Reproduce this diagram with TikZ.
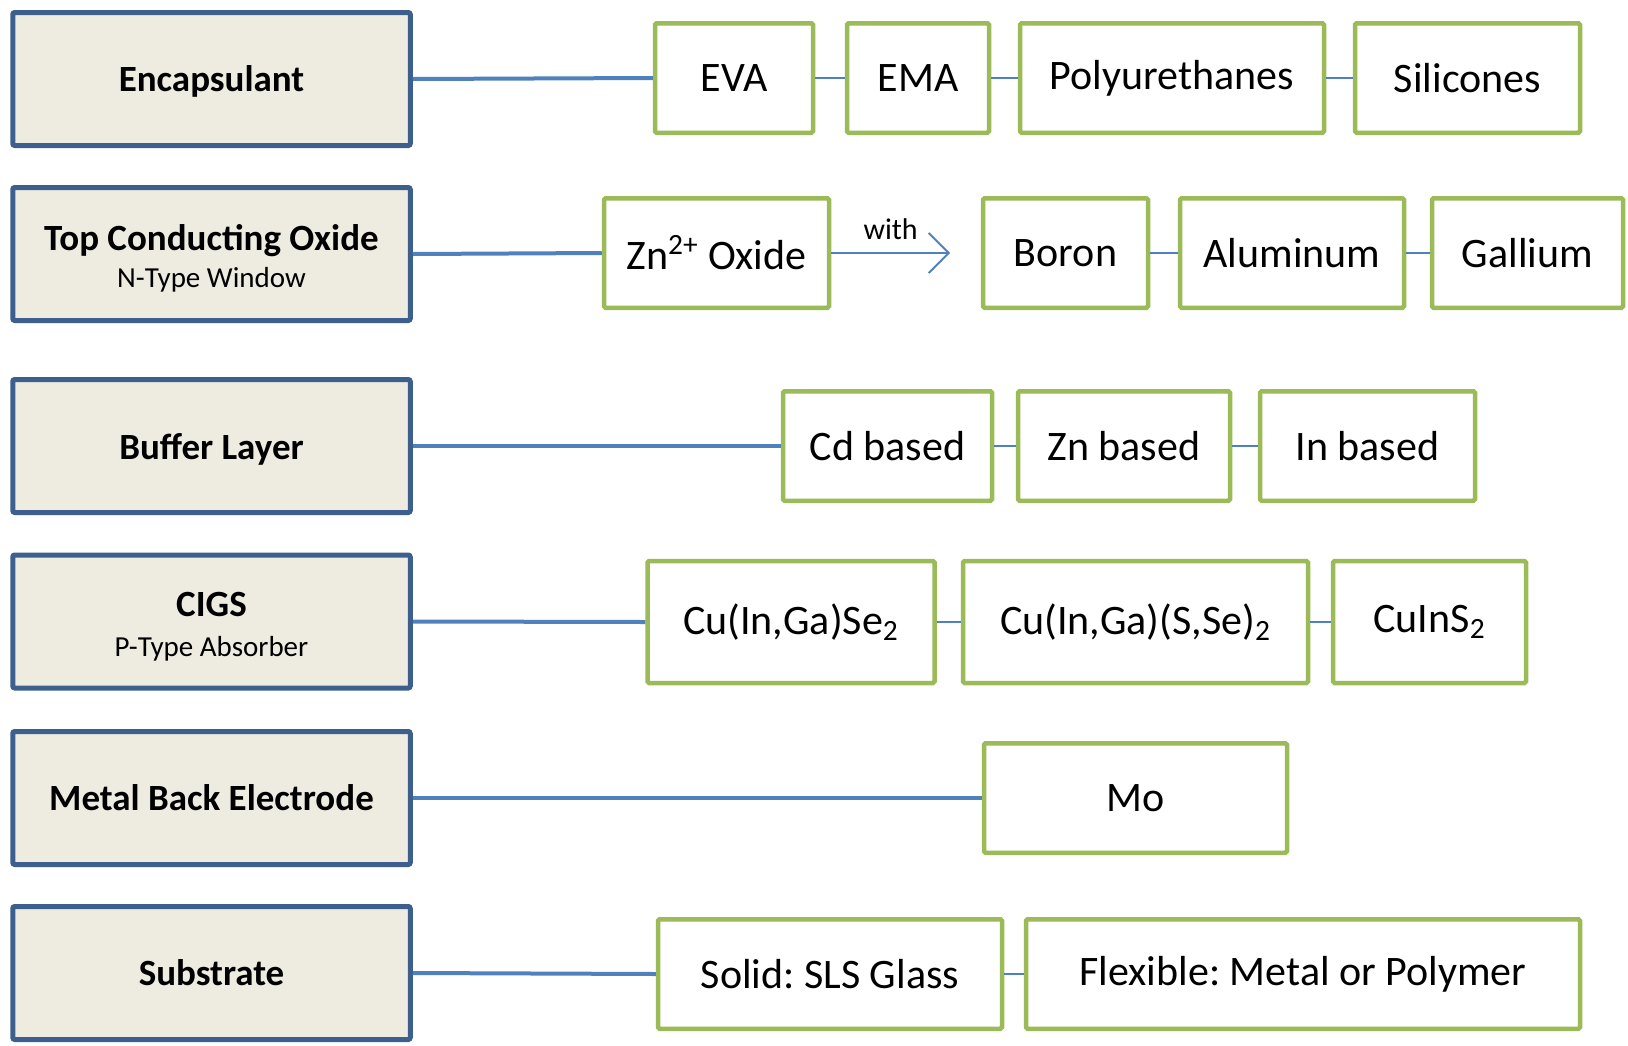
\documentclass[tikz,border=0pt]{standalone}
\usepackage{fontspec}
\setmainfont{Carlito}
\frenchspacing
\usetikzlibrary{arrows.meta}
\definecolor{lfill}{HTML}{EEECE1}
\definecolor{lborder}{HTML}{3C5F8E}
\definecolor{gborder}{HTML}{9BBB59}
\definecolor{cline}{HTML}{4F81BD}
\tikzset{
  lbox/.style={draw=lborder, fill=lfill, line width=2.5pt, rounded corners=1pt,
    minimum width=198.75pt, minimum height=66.5pt, inner sep=0pt, align=center,
    font=\fontsize{18.5}{22}\selectfont\bfseries},
  onebox/.style={lbox, text depth=0pt},
  gbox/.style={draw=gborder, fill=white, line width=2.25pt, rounded corners=0.8pt,
    minimum height=54.75pt, inner sep=0pt, font=\fontsize{21}{25}\selectfont},
  thick link/.style={draw=cline, line width=2pt},
  thin link/.style={draw=cline, line width=1pt},
}
\begin{document}
\begin{tikzpicture}[x=0.5pt,y=-0.5pt]
\useasboundingbox (0,0) rectangle (1628,1045);
% left boxes
\node[onebox] (enc) at (211.5,79) {Encapsulant};
\node[lbox] (tco) at (211.5,254) {\rule{0pt}{17pt}Top Conducting Oxide\\[-3.5pt]{\fontsize{14.5}{18}\selectfont\mdseries N-Type Window}};
\node[onebox] (buf) at (211.5,446) {Buffer Layer};
\node[lbox] (cigs) at (211.5,621.5) {\rule{0pt}{17pt}CIGS\\[-2pt]{\fontsize{14.5}{18}\selectfont\mdseries P-Type Absorber}};
\node[onebox] (mbe) at (211.5,798) {Metal Back Electrode};
\node[onebox] (sub) at (211.5,973) {Substrate};
% row 1
\node[gbox, minimum width=79pt] (eva) at (734,78) {EVA};
\node[gbox, minimum width=71pt] (ema) at (918,78) {EMA};
\node[gbox, minimum width=152pt] (pu) at (1172,78) {Polyurethanes};
\node[gbox, minimum width=112.5pt] (si) at (1467.5,78) {Silicones};
% row 2
\node[gbox, minimum width=112.5pt] (zno) at (716.5,253) {Zn\textsuperscript{2+} Oxide};
\node[gbox, minimum width=82.5pt] (bor) at (1065.5,253) {Boron};
\node[gbox, minimum width=112pt] (alu) at (1292,253) {Aluminum};
\node[gbox, minimum width=95.5pt] (gal) at (1527.5,253) {Gallium};
\coordinate (wend) at (950,253);
% row 3
\node[gbox, minimum width=104.5pt] (cd) at (887.5,446) {Cd based};
\node[gbox, minimum width=106pt] (zn) at (1124,446) {Zn based};
\node[gbox, minimum width=107.5pt] (in) at (1367.5,446) {In based};
% row 4
\node[gbox, minimum width=143.5pt, minimum height=61pt] (c1) at (791,622) {Cu(In,Ga)Se\textsubscript{2}};
\node[gbox, minimum width=172.5pt, minimum height=61pt] (c2) at (1135.5,622) {Cu(In,Ga)(S,Se)\textsubscript{2}};
\node[gbox, minimum width=96.5pt, minimum height=61pt] (c3) at (1429.5,622) {CuInS\textsubscript{2}};
% row 5
\node[gbox, minimum width=151.5pt] (mo) at (1135.5,798) {Mo};
% row 6
\node[gbox, minimum width=172pt] (sls) at (830,974) {Solid: SLS Glass};
\node[gbox, minimum width=277pt] (flex) at (1303,974) {Flexible: Metal or Polymer};
% connectors
\path[thick link] (enc.east) -- (eva.west);
\path[thick link] (tco.east) -- (zno.west);
\path[thick link] (buf.east) -- (cd.west);
\path[thick link] (cigs.east) -- (c1.west);
\path[thick link] (mbe.east) -- (mo.west);
\path[thick link] (sub.east) -- (sls.west);
\path[thin link] (eva.east) -- (ema.west);
\path[thin link] (ema.east) -- (pu.west);
\path[thin link] (pu.east) -- (si.west);
\path[thin link] (bor.east) -- (alu.west);
\path[thin link] (alu.east) -- (gal.west);
\path[thin link] (cd.east) -- (zn.west);
\path[thin link] (zn.east) -- (in.west);
\path[thin link] (c1.east) -- (c2.west);
\path[thin link] (c2.east) -- (c3.west);
\path[thin link] (sls.east) -- (flex.west);
\path[thin link, -{Straight Barb[length=10pt,width=20pt,line width=0.9pt]}] (zno.east) -- node[above=3pt, font=\fontsize{15}{18}\selectfont, text=black] (with) {with} (wend);
\end{tikzpicture}
\end{document}
